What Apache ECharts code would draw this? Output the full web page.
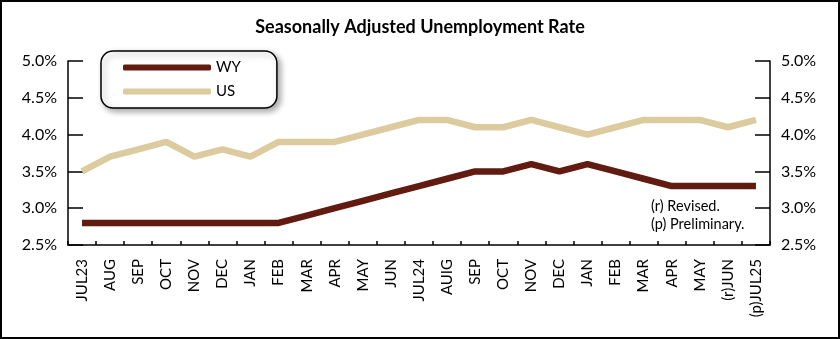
<!DOCTYPE html>
<html><head><meta charset="utf-8">
<script src="https://cdn.jsdelivr.net/npm/echarts@6/dist/echarts.min.js"></script>
<style>html,body{margin:0;padding:0;background:#fff}#c{width:840px;height:339px}</style>
</head><body><div id="c"></div>
<script>
var categories = ['JUL23','AUG','SEP','OCT','NOV','DEC','JAN','FEB','MAR','APR','MAY','JUN','JUL24','AUIG','SEP','OCT','NOV','DEC','JAN','FEB','MAR','APR','MAY','(r)JUN','(p)JUL25'];
var wyValues = [2.8,2.8,2.8,2.8,2.8,2.8,2.8,2.8,2.9,3.0,3.1,3.2,3.3,3.4,3.5,3.5,3.6,3.5,3.6,3.5,3.4,3.3,3.3,3.3,3.3];
var usValues = [3.5,3.7,3.8,3.9,3.7,3.8,3.7,3.9,3.9,3.9,4.0,4.1,4.2,4.2,4.1,4.1,4.2,4.1,4.0,4.1,4.2,4.2,4.2,4.1,4.2];
var yTicks = [2.5,3.0,3.5,4.0,4.5,5.0];
var notes = ['(r) Revised.','(p) Preliminary.'];

var FONT = 'Lato, "Open Sans", sans-serif';
var chart = echarts.init(document.getElementById('c'));
function yAxis(pos){
  return {
    type:'value', position:pos, min:yTicks[0], max:yTicks[yTicks.length-1], interval:0.5,
    axisLine:{show:true,lineStyle:{color:'#000',width:1.5}},
    axisTick:{show:true,inside:true,length:15,lineStyle:{color:'#000',width:1.5}},
    splitLine:{show:false},
    axisLabel:{margin:11,color:'#000',fontSize:16,fontFamily:FONT,formatter:function(v){return v.toFixed(1)+'%';}}
  };
}
chart.setOption({
  animation:false,
  title:{text:'Seasonally Adjusted Unemployment Rate',left:'center',top:13,
    textStyle:{fontSize:18,fontWeight:'bold',color:'#000',fontFamily:FONT}},
  grid:{left:68,right:70,top:61,bottom:94},
  legend:{
    orient:'vertical',left:101,top:51,
    data:['WY','US'],
    icon:'roundRect',itemWidth:88,itemHeight:6,itemGap:9,
    padding:[9,36,9,22],
    backgroundColor:'#fff',borderColor:'#000',borderWidth:1.5,borderRadius:12,
    shadowColor:'rgba(0,0,0,0.35)',shadowBlur:6,shadowOffsetX:3,shadowOffsetY:3,
    textStyle:{fontSize:15,color:'#000',fontFamily:FONT}
  },
  xAxis:{
    type:'category',data:categories,boundaryGap:true,
    axisLine:{lineStyle:{color:'#000',width:1.5}},
    axisTick:{show:true,inside:true,length:4,alignWithLabel:false,lineStyle:{color:'#000',width:1.5}},
    axisLabel:{rotate:90,interval:0,margin:14,color:'#000',fontSize:15,fontFamily:FONT}
  },
  yAxis:[yAxis('left'),yAxis('right')],
  series:[
    {name:'WY',type:'line',data:wyValues,symbol:'none',z:3,
      lineStyle:{color:'#621B10',width:6.5},itemStyle:{color:'#621B10'}},
    {name:'US',type:'line',data:usValues,symbol:'none',z:2,
      lineStyle:{color:'#DCCB9F',width:6.5},itemStyle:{color:'#DCCB9F'}}
  ],
  graphic:[
    {type:'rect',silent:true,shape:{x:1,y:1,width:838,height:337},
      style:{fill:'none',stroke:'#000',lineWidth:2}},
    {type:'text',left:651,top:199,style:{text:notes[0],fontSize:14.5,fontFamily:FONT,fill:'#000'}},
    {type:'text',left:651,top:217,style:{text:notes[1],fontSize:14.5,fontFamily:FONT,fill:'#000'}}
  ]
});
</script></body></html>
